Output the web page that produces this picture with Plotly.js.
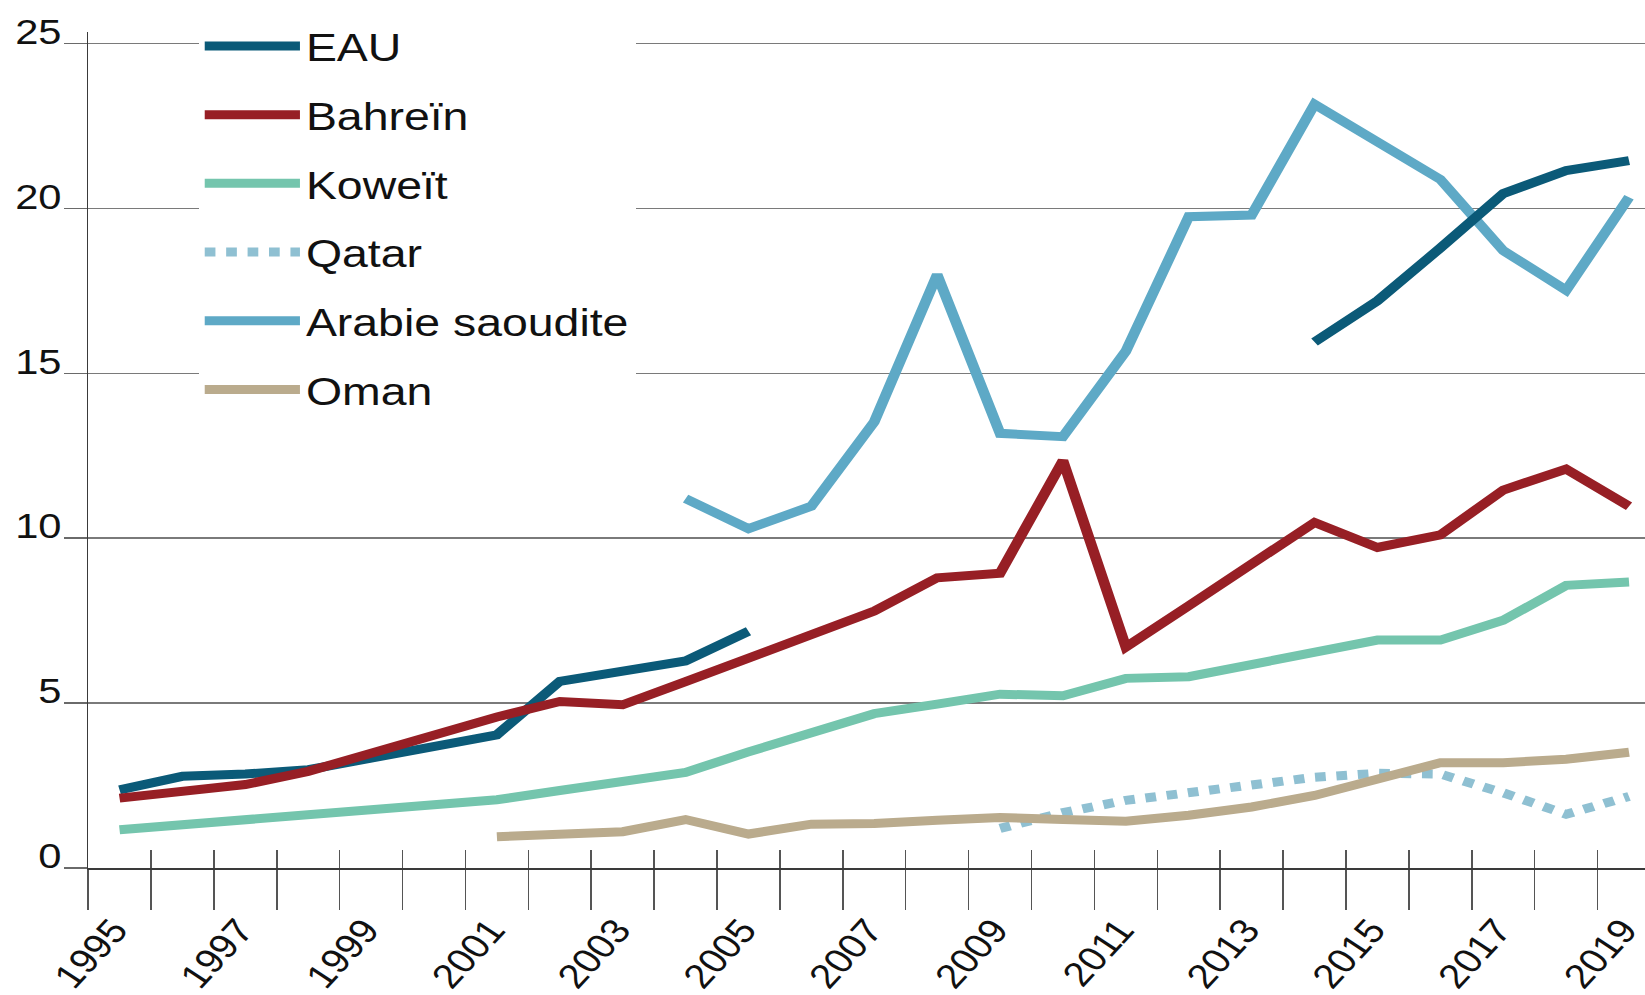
<!DOCTYPE html>
<html>
<head>
<meta charset="utf-8">
<script src="https://cdn.plot.ly/plotly-3.0.1.min.js"></script>
<style>
  html, body { margin: 0; padding: 0; background: #ffffff; overflow: hidden; }
  #wrap { width: 1645px; height: 995px; overflow: hidden; position: relative; }
  #chart { width: 1382px; height: 995px; transform: scaleX(1.1903); transform-origin: 0 0; }
</style>
</head>
<body>
<div id="wrap"><div id="chart"></div></div>
<script>
// ---- data ----
const years = [1995,1996,1997,1998,1999,2000,2001,2002,2003,2004,2005,2006,2007,
               2008,2009,2010,2011,2012,2013,2014,2015,2016,2017,2018,2019];

const eau = [2.37,2.78,2.85,2.98,3.33,3.68,4.04,5.66,5.98,6.28,7.18,
             null,null,null,null,null,null,null,null,
             15.95,17.2,18.8,20.45,21.15,21.45];

const bahrein = [2.12,2.32,2.53,2.93,3.48,4.04,4.58,5.05,4.95,5.65,6.36,7.08,7.79,
                 8.8,8.94,12.35,6.7,7.95,9.25,10.48,9.72,10.1,11.46,12.1,10.97];

const koweit = [1.16,1.31,1.46,1.62,1.77,1.92,2.07,2.35,2.63,2.9,3.52,4.1,4.68,
                4.97,5.27,5.22,5.75,5.8,6.17,6.54,6.91,6.91,7.51,8.57,8.67];

const qatar = [null,null,null,null,null,null,null,null,null,null,null,null,null,null,
               1.2,1.68,2.05,2.3,2.55,2.75,2.87,2.85,2.28,1.63,2.17];

const arabie = [null,null,null,null,null,null,null,null,null,
                11.2,10.29,10.97,13.53,17.99,13.18,13.08,15.67,19.75,19.8,
                23.16,22.0,20.88,18.72,17.52,20.34];

const oman = [null,null,null,null,null,null,
              0.95,1.02,1.1,1.47,1.03,1.33,1.35,1.45,1.53,1.47,1.42,1.6,1.85,
              2.2,2.73,3.19,3.19,3.3,3.51];

const xTickYears = [1995,1997,1999,2001,2003,2005,2007,2009,2011,2013,2015,2017,2019];
const xTickText  = ["1995","1997","1999","2001","2003","2005","2007","2009","2011","2013","2015","2017","2019"];
const yTickVals  = [0,5,10,15,20,25];
const yTickText  = ["0","5","10","15","20","25"];

const names = ["EAU","Bahreïn","Koweït","Qatar","Arabie saoudite","Oman"];
const colors = ["#0b5a78","#971f25","#74c5ad","#8fc0d2","#5ea9c6","#baab8d"];

// boundaries between yearly categories
const boundaries = years.map(y => y - 0.5);

const LW = 9;
function tr(i, ys, dash, rank) {
  return {
    type: "scatter", mode: "lines", x: years, y: ys, name: names[i],
    legendgroup: "g" + i, legendrank: rank,
    connectgaps: false,
    line: { color: colors[i], width: LW, dash: dash || "solid" },
    hoverinfo: "skip"
  };
}

// drawing order (bottom to top); legend order via legendrank
const data = [
  tr(4, arabie, null, 5),
  tr(3, qatar, "dot", 4),
  tr(0, eau, null, 1),
  tr(1, bahrein, null, 2),
  tr(2, koweit, null, 3),
  tr(5, oman, null, 6),
  { type: "scatter", mode: "lines", x: [], y: [], xaxis: "x2", yaxis: "y",
    showlegend: false, hoverinfo: "skip" }
];

const W = 1382, H = 995;
const mL = 74, mR = 0, mT = 32, mB = 127;
const pxPerYear = 52.84;
const xRange = [1994.5 - 1e-4, 1994.5 + (W - mL - mR) / pxPerYear];

const font = "'Liberation Sans', Arial, Helvetica, sans-serif";

const layout = {
  width: W, height: H,
  margin: { l: mL, r: mR, t: mT, b: mB, pad: 0 },
  paper_bgcolor: "#ffffff", plot_bgcolor: "#ffffff",
  font: { family: font, color: "#111111", size: 35 },
  showlegend: true,
  legend: {
    x: 0.0711, xanchor: "left", y: 1.0214, yanchor: "top",
    bgcolor: "#ffffff", borderwidth: 0,
    font: { family: font, size: 39, color: "#111111" },
    itemwidth: 80, tracegroupgap: 15, traceorder: "grouped",
    itemclick: false, itemdoubleclick: false
  },
  xaxis: {
    type: "linear", range: xRange, fixedrange: true,
    tickmode: "array", tickvals: xTickYears, ticktext: xTickText,
    ticks: "outside", ticklen: 27, tickwidth: 1, tickcolor: "rgba(0,0,0,0)",
    tickangle: -52, tickfont: { family: font, size: 34, color: "#111111" },
    ticklabelshift: -5, ticklabeloverflow: "allow",
    minor: { tickmode: "array", tickvals: boundaries, ticks: "outside", ticklen: 40,
             tickwidth: 1.3, tickcolor: "#555555", showgrid: false },
    showgrid: false, zeroline: false,
    showline: true, linecolor: "#3a3a3a", linewidth: 1.6
  },
  xaxis2: {
    type: "linear", range: xRange, overlaying: "x", anchor: "y", side: "bottom",
    fixedrange: true,
    tickmode: "array", tickvals: boundaries,
    ticks: "inside", ticklen: 18, tickwidth: 1.3, tickcolor: "#555555",
    showticklabels: false, showgrid: false, zeroline: false, showline: false
  },
  yaxis: {
    range: [0, 25.35], fixedrange: true,
    tickmode: "array", tickvals: yTickVals, ticktext: yTickText,
    ticks: "outside", ticklen: 19, tickwidth: 1.6, tickcolor: "#6a6a6a",
    tickfont: { family: font, size: 35, color: "#111111" },
    ticklabelshift: -12, ticklabelstandoff: -5,
    showgrid: true, gridcolor: "#7a7a7a", gridwidth: 1.6,
    zeroline: false,
    showline: true, linecolor: "#3a3a3a", linewidth: 1.3
  }
};

Plotly.newPlot("chart", data, layout, { staticPlot: true, displayModeBar: false });
</script>
</body>
</html>
